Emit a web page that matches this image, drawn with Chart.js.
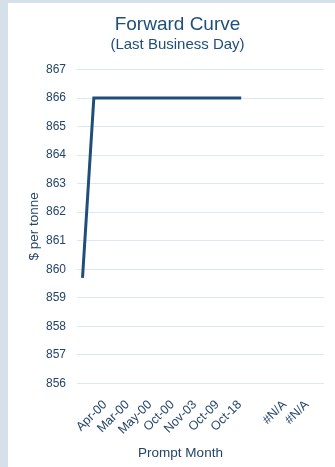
<!DOCTYPE html>
<html>
<head>
<meta charset="utf-8">
<script src="https://cdn.jsdelivr.net/npm/chart.js@4.4.1/dist/chart.umd.min.js"></script>
<style>
  html, body { margin: 0; padding: 0; background: #d6e0ea; }
  #panel { position: absolute; left: 8px; top: 3px; width: 327px; height: 464px; background: #ffffff; }
  canvas { display: block; }
</style>
</head>
<body>
<div id="panel"><canvas id="curveChart" width="327" height="464"></canvas></div>
<script>
// Datos del gráfico
const categories = ["", "", "Apr-00", "", "Mar-00", "", "May-00", "", "Oct-00", "", "Nov-03",
  "", "Oct-09", "", "Oct-18", "", "", "", "#N/A", "", "#N/A", ""];
const prices = [859.75, 866, 866, 866, 866, 866, 866, 866, 866, 866, 866,
  866, 866, 866, 866, null, null, null, null, null, null, null];
const yTicks = [856, 857, 858, 859, 860, 861, 862, 863, 864, 865, 866, 867];

const azul = "#1f4e79";
const texto = "#24456b";
const fuente = "'Liberation Sans', Arial, sans-serif";

// Titulo del eje X centrado sobre el lienzo (como en Excel)
const xTitle = {
  id: "xTitle",
  afterDraw(chart) {
    const { ctx, titleBlock } = chart;
    const cx = (titleBlock.left + titleBlock.right) / 2 + 3;
    ctx.save();
    ctx.font = "13.5px " + fuente;
    ctx.fillStyle = texto;
    ctx.textAlign = "center";
    ctx.textBaseline = "alphabetic";
    ctx.fillText("Prompt Month", cx, chart.height - 10);
    ctx.restore();
  },
};

new Chart(document.getElementById("curveChart").getContext("2d"), {
  type: "line",
  data: {
    labels: categories,
    datasets: [
      {
        data: prices,
        borderColor: azul,
        borderWidth: 3,
        borderCapStyle: "square",
        pointRadius: 0,
        tension: 0,
        fill: false,
      },
    ],
  },
  options: {
    responsive: false,
    animation: false,
    layout: { padding: { left: 18, right: 6, top: 0, bottom: 0 } },
    plugins: {
      legend: { display: false },
      tooltip: { enabled: false },
      title: {
        display: true,
        text: "Forward Curve",
        color: azul,
        font: { family: fuente, size: 19, weight: "normal" },
        padding: { top: 10, bottom: 0 },
      },
      subtitle: {
        display: true,
        text: "(Last Business Day)",
        color: azul,
        font: { family: fuente, size: 15, weight: "normal" },
        padding: { top: 0, bottom: 15.7 },
      },
    },
    scales: {
      x: {
        offset: true,
        grid: { display: false },
        border: { display: false },
        ticks: {
          autoSkip: false,
          minRotation: 45,
          maxRotation: 45,
          padding: 6,
          color: texto,
          font: { family: fuente, size: 12.5 },
        },
        afterFit(scale) {
          scale.height = 83.7;
        },
      },
      y: {
        min: 856,
        max: 867,
        afterBuildTicks(scale) {
          scale.ticks = yTicks.map((v) => ({ value: v }));
        },
        grid: { color: "#dbe8f4", lineWidth: 1, drawTicks: false },
        border: { display: false },
        ticks: {
          padding: 11,
          color: texto,
          font: { family: fuente, size: 12 },
        },
        title: {
          display: true,
          text: "$ per tonne",
          color: texto,
          font: { family: fuente, size: 13.5 },
          padding: { top: 0, bottom: 0 },
        },
        afterFit(scale) {
          scale.width = 51;
        },
      },
    },
  },
  plugins: [xTitle],
});
</script>
</body>
</html>
